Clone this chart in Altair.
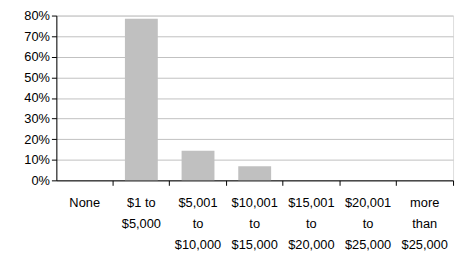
import altair as alt
import pandas as pd

categories = ["None", "$1 to|$5,000", "$5,001|to|$10,000", "$10,001|to|$15,000",
              "$15,001|to|$20,000", "$20,001|to|$25,000", "more|than|$25,000"]
shares = [0.0, 0.785, 0.144, 0.069, 0.0, 0.0, 0.0]
y_ticks = [0, 0.1, 0.2, 0.3, 0.4, 0.5, 0.6, 0.7, 0.8]

df = pd.DataFrame({"cat": categories, "share": shares})

FONT = "Liberation Sans"

chart = alt.Chart(df).mark_bar(
    color="#c0c0c0", width=alt.RelativeBandSize(0.58)
).encode(
    x=alt.X("cat:N", sort=categories,
            scale=alt.Scale(paddingInner=0, paddingOuter=0),
            axis=alt.Axis(title=None, labelAngle=0, bandPosition=1,
                          labelExpr="split(datum.label, '|')",
                          labelFont=FONT, labelFontSize=13, labelColor="#000000",
                          labelLineHeight=21, labelPadding=12, labelBaseline="top",
                          tickSize=5, tickColor="#000000", domainColor="#000000",
                          labelOverlap=False)),
    y=alt.Y("share:Q",
            scale=alt.Scale(domain=[0, 0.8], nice=False),
            axis=alt.Axis(title=None, values=y_ticks, format=".0%",
                          labelFont=FONT, labelFontSize=13, labelColor="#000000",
                          labelPadding=2, tickSize=5, tickColor="#000000",
                          domainColor="#000000", gridColor="#c0c0c0")),
).properties(
    width=402, height=167,
    autosize=alt.AutoSizeParams(type="none"),
    padding={"left": 49, "top": 6, "right": 3, "bottom": 76}
).configure_view(
    stroke="#808080", strokeWidth=1
).configure(background="#ffffff")

chart.save("out.html", embed_options={"renderer": "svg", "actions": False})
